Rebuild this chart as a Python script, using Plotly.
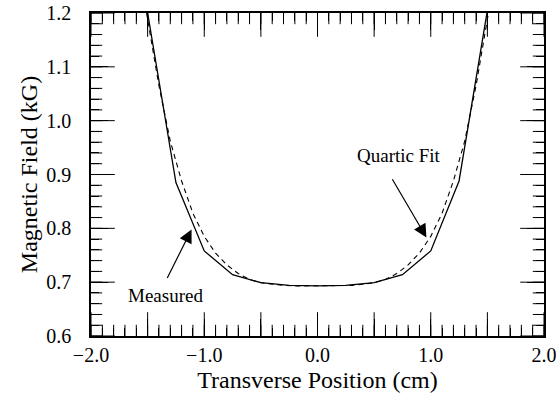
import plotly.graph_objects as go

# Measured field (solid), read at 0.25 cm steps
meas_x = [-1.5, -1.25, -1.0, -0.75, -0.5, -0.25, 0.0, 0.25, 0.5, 0.75, 1.0, 1.25, 1.5]
meas_y = [1.200, 0.885, 0.758, 0.714, 0.699, 0.694, 0.693, 0.694, 0.699, 0.714, 0.758, 0.888, 1.205]

# Quartic fit (dashed)
fit_x = [-1.55, -1.5, -1.4, -1.3, -1.2, -1.1, -1.0, -0.9, -0.8, -0.7, -0.6, -0.5, -0.4, -0.3, -0.2, -0.1,
         0.0, 0.1, 0.2, 0.3, 0.4, 0.5, 0.6, 0.7, 0.8, 0.9, 1.0, 1.1, 1.2, 1.3, 1.4, 1.5, 1.55]
fit_y = [1.25, 1.19, 1.065, 0.962, 0.888, 0.828, 0.785, 0.754, 0.732, 0.716, 0.705, 0.699, 0.696, 0.694, 0.693, 0.693,
         0.693, 0.693, 0.693, 0.694, 0.696, 0.699, 0.705, 0.716, 0.732, 0.754, 0.785, 0.828, 0.888, 0.962, 1.065, 1.19, 1.25]

x_tickvals = [-2.0, -1.5, -1.0, -0.5, 0.0, 0.5, 1.0, 1.5, 2.0]
x_ticktext = ["\u22122.0", "", "\u22121.0", "", "0.0", "", "1.0", "", "2.0"]
y_tickvals = [0.6, 0.7, 0.8, 0.9, 1.0, 1.1, 1.2]
y_ticktext = ["0.6", "0.7", "0.8", "0.9", "1.0", "1.1", "1.2"]
x_minor_step = 0.1
y_minor_step = 0.02

X_RANGE = [-2.0, 2.0]
Y_RANGE = [0.6, 1.2]
FONT = "Liberation Serif"
MAJOR_LEN = 17
MINOR_LEN = 8

x_minor_vals = [round(X_RANGE[0] + x_minor_step * i, 3)
                for i in range(int(round((X_RANGE[1] - X_RANGE[0]) / x_minor_step)) + 1)]
y_minor_vals = [round(Y_RANGE[0] + y_minor_step * i, 3)
                for i in range(int(round((Y_RANGE[1] - Y_RANGE[0]) / y_minor_step)) + 1)]

fig = go.Figure()


def tick_trace(xs, ys, symbol, length):
    # inward tick marks on the frame: markers centred on the frame line, half clipped by the plot area
    return go.Scatter(x=xs, y=ys, mode="markers", cliponaxis=True,
                      marker=dict(symbol=symbol, size=2 * length, color="black",
                                  line=dict(color="black", width=1)),
                      showlegend=False, hoverinfo="skip")


# x ticks (bottom and top)
for edge in Y_RANGE:
    fig.add_trace(tick_trace(x_minor_vals, [edge] * len(x_minor_vals), "line-ns", MINOR_LEN))
    fig.add_trace(tick_trace(x_tickvals, [edge] * len(x_tickvals), "line-ns", MAJOR_LEN))
# y ticks (left and right)
for edge in X_RANGE:
    fig.add_trace(tick_trace([edge] * len(y_minor_vals), y_minor_vals, "line-ew", MINOR_LEN))
    fig.add_trace(tick_trace([edge] * len(y_tickvals), y_tickvals, "line-ew", MAJOR_LEN))

fig.add_trace(go.Scatter(x=fit_x, y=fit_y, mode="lines",
                         line=dict(color="black", width=1.1, dash="5px,4px"),
                         showlegend=False, hoverinfo="skip"))
fig.add_trace(go.Scatter(x=meas_x, y=meas_y, mode="lines",
                         line=dict(color="black", width=1.3),
                         showlegend=False, hoverinfo="skip"))

axis_common = dict(
    showline=True, linecolor="black", linewidth=1.5, mirror="ticks",
    ticks="inside", ticklen=MAJOR_LEN, tickwidth=1, tickcolor="black",
    showgrid=False, zeroline=False, automargin=False,
    ticklabeloverflow="allow",
    tickfont=dict(family=FONT, size=20, color="black"),
)

fig.update_xaxes(range=X_RANGE, tickvals=x_tickvals, ticktext=x_ticktext,
                 minor=dict(dtick=x_minor_step, tick0=0, ticks="inside", ticklen=MINOR_LEN,
                            tickwidth=1, tickcolor="black", showgrid=False),
                 title=dict(text="Transverse Position (cm)", font=dict(family=FONT, size=24, color="black"), standoff=6),
                 **axis_common)
fig.update_yaxes(range=Y_RANGE, tickvals=y_tickvals, ticktext=y_ticktext,
                 minor=dict(dtick=y_minor_step, tick0=0.6, ticks="inside", ticklen=MINOR_LEN,
                            tickwidth=1, tickcolor="black", showgrid=False),
                 ticklabelstandoff=14,
                 title=dict(text="Magnetic Field (kG)", font=dict(family=FONT, size=24, color="black"), standoff=2),
                 **axis_common)

# annotations
fig.add_annotation(x=0.962, y=0.783, ax=0.653, ay=0.894, xref="x", yref="y", axref="x", ayref="y",
                   text="", showarrow=True, arrowhead=2, arrowsize=2.2, arrowwidth=1.2, arrowcolor="black")
fig.add_annotation(x=-1.112, y=0.798, ax=-1.333, ay=0.705, xref="x", yref="y", axref="x", ayref="y",
                   text="", showarrow=True, arrowhead=2, arrowsize=2.2, arrowwidth=1.2, arrowcolor="black")
fig.add_annotation(x=0.72, y=0.935, xref="x", yref="y", text="Quartic Fit", showarrow=False,
                   font=dict(family=FONT, size=19, color="black"))
fig.add_annotation(x=-1.34, y=0.675, xref="x", yref="y", text="Measured", showarrow=False,
                   font=dict(family=FONT, size=19, color="black"))

fig.update_layout(
    width=556, height=395,
    margin=dict(l=91, r=12, t=13, b=59),
    paper_bgcolor="white", plot_bgcolor="white",
    font=dict(family=FONT, color="black"),
)

fig.write_html("out.html", config={"displayModeBar": False},
               post_script="document.body.style.margin='0';")
